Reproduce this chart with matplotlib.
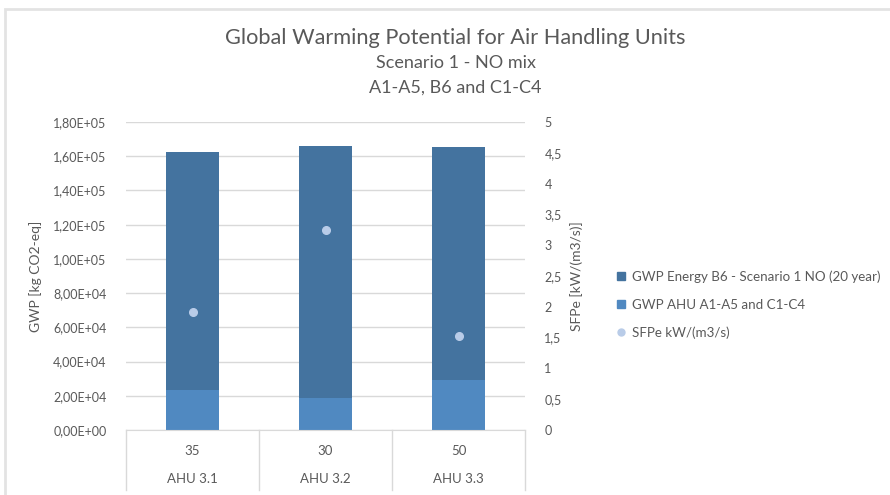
import matplotlib
matplotlib.use("Agg")
import matplotlib.pyplot as plt
from matplotlib.patches import Rectangle
from matplotlib.lines import Line2D
from matplotlib.ticker import FuncFormatter

plt.rcParams['font.family'] = ['Lato', 'DejaVu Sans']

units = ["AHU 3.1", "AHU 3.2", "AHU 3.3"]
flow_labels = ["35", "30", "50"]
gwp_ahu = [23500, 18700, 29100]
gwp_energy_total = [162300, 166000, 165300]
sfpe = [1.91, 3.24, 1.52]

gwp_energy = [t - a for t, a in zip(gwp_energy_total, gwp_ahu)]

dark = "#44739F"
light = "#5089C1"
dot = "#B9CCE8"
txt = "#595959"
grid = "#D9D9D9"

fig = plt.figure(figsize=(8.9, 4.95), dpi=100)
fig.patches.append(Rectangle((5 / 890, -0.1), 1.2, 1 - 9 / 495 + 0.1, transform=fig.transFigure,
                             fill=False, edgecolor="#E3E3E3", linewidth=2))

ax = fig.add_axes([126 / 890, 1 - 430 / 495, (525 - 126) / 890, (430 - 122) / 495])
x = list(range(len(units)))
ax.bar(x, gwp_ahu, width=0.4, color=light, zorder=2)
ax.bar(x, gwp_energy, width=0.4, bottom=gwp_ahu, color=dark, zorder=2)
ax.set_xlim(-0.5, 2.5)
ax.set_ylim(0, 180000)
ax.set_yticks(range(0, 180001, 20000))
ax.yaxis.set_major_formatter(FuncFormatter(lambda v, p: ("%.2E" % v).replace(".", ",")))
ax.grid(axis="y", color=grid, linewidth=1, zorder=0)
ax.set_xticks([])
for s in ["top", "left", "right"]:
    ax.spines[s].set_visible(False)
ax.spines["bottom"].set_color(grid)
ax.tick_params(axis="y", length=0, labelsize=9, labelcolor=txt, pad=14)
ax.set_ylabel("GWP [kg CO2-eq]", fontsize=10, color=txt, labelpad=8)

# category table under the axis
tb = -(490 - 430) / 308
for xv in [-0.5, 0.5, 1.5, 2.5]:
    ax.plot([xv, xv], [0, tb], transform=ax.get_xaxis_transform(), color=grid,
            linewidth=1, clip_on=False)
for i in x:
    ax.text(i, -(451 - 430) / 308, flow_labels[i], transform=ax.get_xaxis_transform(),
            ha="center", va="center", fontsize=9.5, color=txt)
    ax.text(i, -(479 - 430) / 308, units[i], transform=ax.get_xaxis_transform(),
            ha="center", va="center", fontsize=9.5, color=txt)

ax2 = ax.twinx()
ax2.plot(x, sfpe, linestyle="none", marker="o", markersize=5.5, color=dot, zorder=3)
ax2.set_ylim(0, 5)
ax2.set_yticks([0, 0.5, 1, 1.5, 2, 2.5, 3, 3.5, 4, 4.5, 5])
ax2.yaxis.set_major_formatter(FuncFormatter(lambda v, p: ("%g" % v).replace(".", ",")))
for s in ["top", "left", "right", "bottom"]:
    ax2.spines[s].set_visible(False)
ax2.tick_params(axis="y", length=0, labelsize=9, labelcolor=txt, pad=14)
ax2.set_ylabel("SFPe [kW/(m3/s)]", fontsize=10, color=txt, labelpad=6)

fig.text(455 / 890, 1 - 38 / 495, "Global Warming Potential for Air Handling Units",
         ha="center", va="center", fontsize=15.7, color=txt)
fig.text(456 / 890, 1 - 63 / 495, "Scenario 1 - NO mix", ha="center", va="center",
         fontsize=13, color=txt)
fig.text(455 / 890, 1 - 88 / 495, "A1-A5, B6 and C1-C4", ha="center", va="center",
         fontsize=13, color=txt)

handles = [Line2D([], [], linestyle="none", marker="s", markersize=6, color=dark),
           Line2D([], [], linestyle="none", marker="s", markersize=6, color=light),
           Line2D([], [], linestyle="none", marker="o", markersize=5, color=dot)]
names = ["GWP Energy B6 - Scenario 1 NO (20 year)", "GWP AHU A1-A5 and C1-C4", "SFPe kW/(m3/s)"]
fig.legend(handles, names, loc="upper left", bbox_to_anchor=(604 / 890, 1 - 258 / 495),
           frameon=False, fontsize=9.6, labelcolor=txt, handlelength=0.8,
           handletextpad=0.4, labelspacing=1.2)

fig.savefig("out.png", dpi=100)
